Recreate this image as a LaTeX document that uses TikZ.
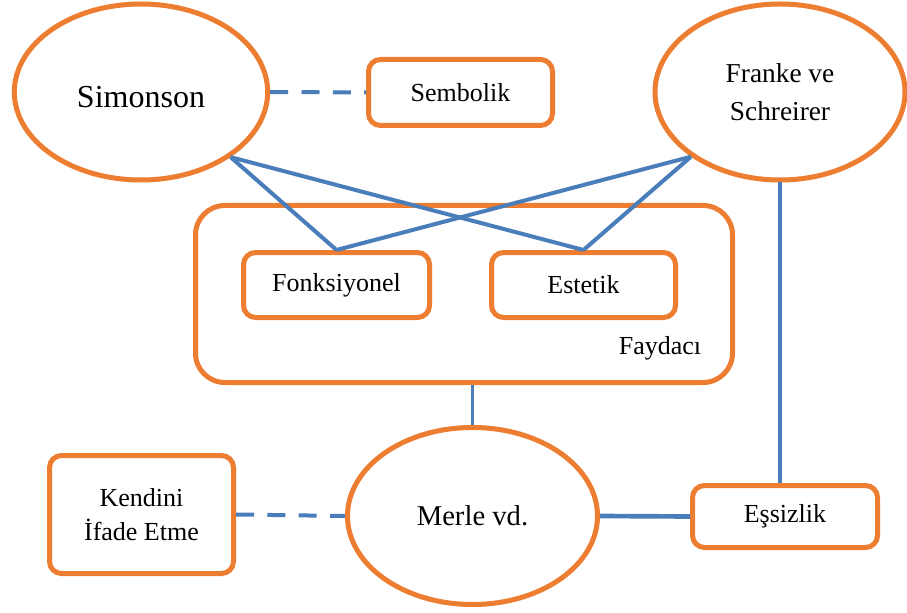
\documentclass[tikz,border=0pt]{standalone}
\usepackage{fontspec}
\setmainfont{Liberation Serif}
\usetikzlibrary{shapes.geometric}
\definecolor{borange}{HTML}{ED7D31}
\definecolor{lblue}{HTML}{4A7EBB}

\begin{document}
\begin{tikzpicture}[x=0.75pt,y=-0.75pt,
  oval/.style={ellipse, draw=borange, line width=3.75pt, inner sep=0pt, align=center},
  card/.style={rectangle, rounded corners=9pt, draw=borange, line width=3.75pt, inner sep=0pt, align=center},
  link/.style={draw=lblue, line width=3pt},
  dlink/.style={link, dash pattern=on 13.5pt off 10pt},
  lbl/.style={font=\fontsize{19.5}{26}\selectfont}
]
\useasboundingbox (0,0) rectangle (907,613);

% outer group box
\node[card, rounded corners=22pt, minimum width=402.75pt, minimum height=132.75pt] (fay) at (464,294) {};
\node[lbl] (faylbl) at (660,348) {Faydacı};

% authors
\node[oval, minimum width=190pt, minimum height=132pt, font=\fontsize{24}{28}\selectfont] (sim) at (141,92) {\raisebox{-3.5pt}[\height][\depth]{Simonson}};
\node[oval, minimum width=187.5pt, minimum height=132pt, font=\fontsize{20.5}{28.5}\selectfont] (fra) at (780,92) {Franke ve\\Schreirer};
\node[oval, minimum width=187.5pt, minimum height=132.75pt, font=\fontsize{21.5}{26}\selectfont] (merle) at (472.5,516) {Merle vd.};

% categories
\node[card, lbl, minimum width=138pt, minimum height=49.5pt] (sem) at (460.5,92.5) {Sembolik};
\node[card, lbl, minimum width=139.5pt, minimum height=48.75pt] (fon) at (336.5,285) {Fonksiyonel};
\node[card, lbl, minimum width=138pt, minimum height=48.75pt] (est) at (583.5,285) {Estetik};
\node[card, lbl, minimum width=138pt, minimum height=88.5pt] (ken) at (141.5,514.5) {Kendini\\İfade Etme};
\node[card, lbl, minimum width=138.75pt, minimum height=46.5pt] (ess) at (785,516.5) {Eşsizlik};

% connectors
\draw[dlink] (sim.east) -- (sem.west);
\draw[link] (sim.-36) -- (fon.north);
\draw[link] (sim.-36) -- (est.north);
\draw[link] (fra.216) -- (fon.north);
\draw[link] (fra.216) -- (est.north);
\draw[link, line width=2.5pt] (merle.north) -- (merle.north |- fay.south);
\draw[link, line width=2.5pt] (fra.south) -- (fra.south |- ess.north);
\draw[link, line width=3.5pt] (merle.east) -- (ess.west);
\draw[dlink] (ken.east) -- (merle.west);
\end{tikzpicture}
\end{document}
